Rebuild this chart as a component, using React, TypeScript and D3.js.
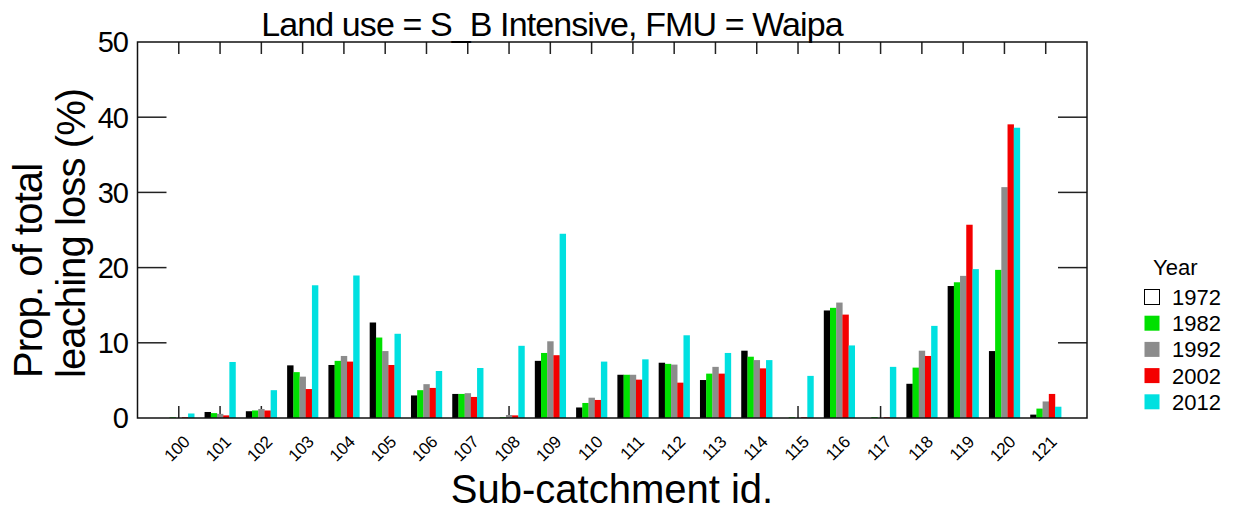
import React, { useRef, useEffect } from "react";
import * as d3 from "d3";

// sub-catchment ids along the x axis
const categories = [
	"100", "101", "102", "103", "104", "105", "106", "107", "108", "109", "110",
	"111", "112", "113", "114", "115", "116", "117", "118", "119", "120", "121",
];
const years = ["1972", "1982", "1992", "2002", "2012"];
const yearColors = ["#000000", "#00e000", "#8c8c8c", "#f40000", "#00e0e0"];

// proportion of total leaching loss (%) per sub-catchment, one array per year
const v1972 = [0, 0.8, 0.9, 7.0, 7.05, 12.7, 3.0, 3.2, 0, 7.6, 1.4, 5.75, 7.35, 5.05, 8.95, 0, 14.3, 0, 4.55, 17.55, 8.9, 0.45];
const v1982 = [0.1, 0.65, 1.0, 6.1, 7.6, 10.7, 3.7, 3.2, 0.1, 8.65, 2.0, 5.75, 7.2, 5.9, 8.15, 0.1, 14.65, 0.1, 6.7, 18.05, 19.7, 1.25];
const v1992 = [0, 0.55, 1.2, 5.5, 8.25, 8.9, 4.5, 3.3, 0.4, 10.2, 2.7, 5.75, 7.1, 6.8, 7.7, 0, 15.35, 0, 8.95, 18.9, 30.7, 2.2];
const v2002 = [0.1, 0.35, 1.0, 3.85, 7.5, 7.05, 4.0, 2.8, 0.35, 8.35, 2.4, 5.1, 4.7, 5.9, 6.6, 0.1, 13.75, 0.1, 8.25, 25.7, 39.05, 3.2];
const v2012 = [0.6, 7.45, 3.7, 17.65, 18.95, 11.2, 6.25, 6.65, 9.6, 24.5, 7.5, 7.8, 11.0, 8.65, 7.7, 5.6, 9.65, 6.8, 12.25, 19.8, 38.6, 1.5];
const series = [v1972, v1982, v1992, v2002, v2012];

const yTicks = [0, 10, 20, 30, 40, 50];

const title = "Land use = S_B Intensive, FMU = Waipa";
const xTitle = "Sub-catchment id.";
const yTitle = ["Prop. of total", "leaching loss (%)"];

const FONT = "'Liberation Sans', Arial, sans-serif";

export default function App() {
	const svgRef = useRef<SVGSVGElement | null>(null);

	useEffect(() => {
		const width = 1234;
		const height = 519;
		const left = 137.5;
		const right = 1087;
		const top = 42;
		const bottom = 418;

		const svg = d3.select(svgRef.current);
		svg.selectAll("*").remove();
		svg.attr("width", width).attr("height", height);

		// categories sit at 1..22 in a 0..23 domain
		const x = d3
			.scaleLinear()
			.domain([-1, categories.length])
			.range([left, right]);
		const inner = d3.scaleBand().domain(years).range([-15.5, 15.5]).padding(0);
		const y = d3.scaleLinear().domain([0, 50]).range([bottom, top]);

		const tickColor = "#222";

		// small ticks at every category, top and bottom (bottom ones behind bars)
		const catIdx = categories.map((_, i) => i);
		svg
			.append("g")
			.selectAll("line")
			.data(catIdx)
			.enter()
			.append("line")
			.attr("x1", (i) => x(i))
			.attr("x2", (i) => x(i))
			.attr("y1", bottom)
			.attr("y2", bottom - 12)
			.attr("stroke", tickColor)
			.attr("stroke-width", 1.5);
		svg
			.append("g")
			.selectAll("line")
			.data(catIdx)
			.enter()
			.append("line")
			.attr("x1", (i) => x(i))
			.attr("x2", (i) => x(i))
			.attr("y1", top)
			.attr("y2", top + 12)
			.attr("stroke", tickColor)
			.attr("stroke-width", 1.5);

		// y ticks on both sides, pointing in
		const midTicks = yTicks.filter((t) => t > 0 && t < 50);
		svg
			.append("g")
			.selectAll("line")
			.data(midTicks)
			.enter()
			.append("line")
			.attr("x1", left)
			.attr("x2", left + 29)
			.attr("y1", (d) => y(d))
			.attr("y2", (d) => y(d))
			.attr("stroke", tickColor)
			.attr("stroke-width", 1.5);
		svg
			.append("g")
			.selectAll("line")
			.data(midTicks)
			.enter()
			.append("line")
			.attr("x1", right - 29)
			.attr("x2", right)
			.attr("y1", (d) => y(d))
			.attr("y2", (d) => y(d))
			.attr("stroke", tickColor)
			.attr("stroke-width", 1.5);

		// bars
		const groups = svg
			.append("g")
			.selectAll("g")
			.data(series)
			.enter()
			.append("g")
			.attr("fill", (_, k) => yearColors[k]);
		groups
			.selectAll("rect")
			.data((vals, k) => vals.map((v, i) => ({ v, i, k })))
			.enter()
			.append("rect")
			.attr("x", (d) => x(d.i) + (inner(years[d.k]) as number))
			.attr("width", inner.bandwidth() + 0.2)
			.attr("y", (d) => y(d.v))
			.attr("height", (d) => y(0) - y(d.v));

		// frame
		svg
			.append("rect")
			.attr("x", left)
			.attr("y", top)
			.attr("width", right - left)
			.attr("height", bottom - top)
			.attr("fill", "none")
			.attr("stroke", "#111")
			.attr("stroke-width", 1.5);

		// y tick labels
		svg
			.append("g")
			.selectAll("text")
			.data(yTicks)
			.enter()
			.append("text")
			.attr("x", 128)
			.attr("y", (d) => y(d))
			.attr("dy", "0.36em")
			.attr("text-anchor", "end")
			.attr("font-family", FONT)
			.attr("font-size", 29)
			.attr("letter-spacing", -1)
			.text((d) => d);

		// x tick labels, rotated
		svg
			.append("g")
			.selectAll("text")
			.data(categories)
			.enter()
			.append("text")
			.attr("transform", (_, i) => `translate(${x(i) + 12},${443}) rotate(-45)`)
			.attr("text-anchor", "end")
			.attr("font-family", FONT)
			.attr("font-size", 17)
			.attr("letter-spacing", -0.3)
			.text((d) => d);

		// titles
		svg
			.append("text")
			.attr("x", 552)
			.attr("y", 36)
			.attr("text-anchor", "middle")
			.attr("font-family", FONT)
			.attr("font-size", 34)
			.attr("letter-spacing", -0.9)
			.text(title);

		svg
			.append("text")
			.attr("x", 612)
			.attr("y", 503)
			.attr("text-anchor", "middle")
			.attr("font-family", FONT)
			.attr("font-size", 40)
			.text(xTitle);

		svg
			.append("g")
			.selectAll("text")
			.data(yTitle)
			.enter()
			.append("text")
			.attr("transform", (_, i) => `translate(${i === 0 ? 42 : 85},378) rotate(-90)`)
			.attr("font-family", FONT)
			.attr("font-size", 40)
			.attr("letter-spacing", -0.9)
			.text((d) => d);

		// legend
		const legend = svg.append("g");
		legend
			.append("text")
			.attr("x", 1153)
			.attr("y", 275)
			.attr("font-family", FONT)
			.attr("font-size", 22)
			.text("Year");
		const rows = legend
			.selectAll("g.row")
			.data(years)
			.enter()
			.append("g")
			.attr("class", "row")
			.attr("transform", (_, k) => `translate(1144,${289 + k * 26.2})`);
		rows
			.append("rect")
			.attr("x", 0.5)
			.attr("y", 0.5)
			.attr("width", 15)
			.attr("height", 15)
			.attr("fill", (_, k) => (k === 0 ? "#fff" : yearColors[k]))
			.attr("stroke", (_, k) => (k === 0 ? "#000" : "none"));
		rows
			.append("text")
			.attr("x", 28)
			.attr("y", 16)
			.attr("font-family", FONT)
			.attr("font-size", 22)
			.text((d) => d);
	}, []);

	return (
		<svg
			ref={svgRef}
			style={{ position: "absolute", left: 0, top: 0, background: "#fff" }}
		></svg>
	);
}
